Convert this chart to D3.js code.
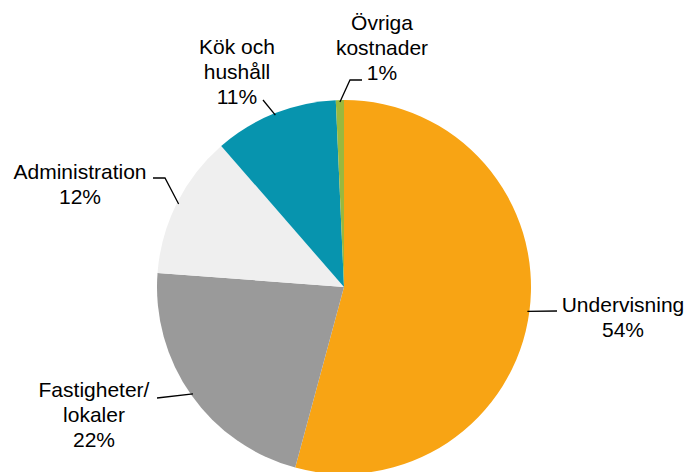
<!DOCTYPE html>
<html>
<head>
<meta charset="utf-8">
<script src="https://cdn.jsdelivr.net/npm/d3@7"></script>
<style>
  body { margin: 0; background: #fff; }
  text { font-family: "Liberation Sans", Arial, sans-serif; font-size: 21px; fill: #000; }
</style>
</head>
<body>
<div id="chart"></div>
<script>
// Data (shares, labels show them rounded)
const categories = ["Undervisning", "Fastigheter/\nlokaler", "Administration", "Kök och\nhushåll", "Övriga\nkostnader"];
const shares = [54.2, 22.0, 12.4, 10.7, 0.7];
const colors = ["#F8A414", "#9A9A9A", "#EFEFEF", "#0794AE", "#9AB83E"];

// label layout: text anchor (centre x, first baseline y) and leader points after the arc point
const labelLayout = [
    { x: 623, y: 312, leader: [[557, 311]] },
    { x: 94, y: 397, leader: [[157, 398]] },
    { x: 80, y: 179, leader: [[165, 178], [153, 178]] },
    { x: 237, y: 54, leader: [[263, 100]] },
    { x: 382, y: 30, leader: [[350, 80], [362, 80]] }
];

const width = 688, height = 472;
const cx = 344, cy = 287, r = 187;

const svg = d3.select("#chart").append("svg")
    .attr("width", width)
    .attr("height", height);

const pie = d3.pie().sort(null).value(d => d);
const arcs = pie(shares);
const arc = d3.arc().innerRadius(0).outerRadius(r);

const g = svg.append("g").attr("transform", `translate(${cx},${cy})`);

g.selectAll("path")
    .data(arcs)
    .enter()
    .append("path")
    .attr("d", arc)
    .style("fill", (d, i) => colors[i]);

// leader lines
svg.selectAll("polyline")
    .data(arcs)
    .enter()
    .append("polyline")
    .attr("points", (d, i) => {
        const mid = (d.startAngle + d.endAngle) / 2;
        const p = [cx + (r - 2) * Math.sin(mid), cy - (r - 2) * Math.cos(mid)];
        return [p].concat(labelLayout[i].leader).map(q => q.join(",")).join(" ");
    })
    .style("fill", "none")
    .style("stroke", "#000")
    .style("stroke-width", 1.3);

// labels
svg.selectAll("text.lbl")
    .data(arcs)
    .enter()
    .append("text")
    .attr("class", "lbl")
    .attr("text-anchor", "middle")
    .attr("x", (d, i) => labelLayout[i].x)
    .attr("y", (d, i) => labelLayout[i].y)
    .each(function (d, i) {
        const lines = categories[i].split("\n").concat([Math.round(shares[i]) + "%"]);
        d3.select(this).selectAll("tspan")
            .data(lines)
            .enter()
            .append("tspan")
            .attr("x", labelLayout[i].x)
            .attr("dy", (l, j) => j === 0 ? 0 : 25)
            .text(l => l);
    });
</script>
</body>
</html>
